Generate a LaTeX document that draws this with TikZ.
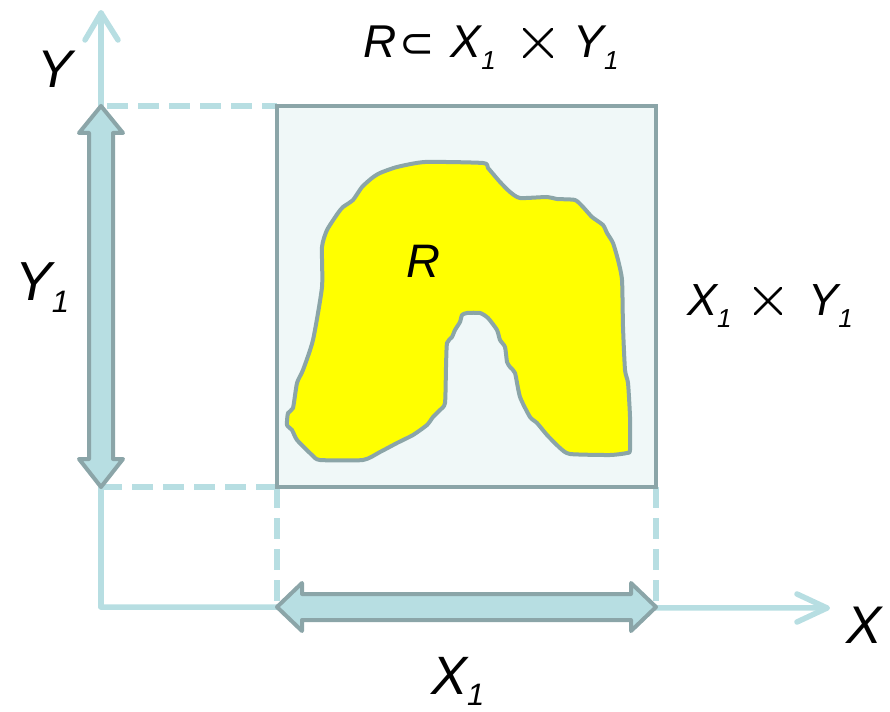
\documentclass[tikz,border=0pt]{standalone}
\usepackage{fontspec}
\usetikzlibrary{fit}
\setmainfont{Liberation Sans}
\newfontfamily\dejavu{DejaVu Sans}
\newcommand{\subone}[2]{\raisebox{-#2pt}{\fontsize{#1}{#1}\selectfont 1}}
\newcommand{\thintimes}[1]{\tikz[baseline=0pt, x=1pt, y=1pt]{\draw[line width=2.6pt, line cap=round] (0,1) -- (#1,#1+1) (0,#1+1) -- (#1,1);}}
\definecolor{axiscol}{HTML}{B7DEE2}
\definecolor{edgecol}{HTML}{8BA5A8}
\definecolor{boxfill}{HTML}{F0F8F8}
\definecolor{blobfill}{HTML}{FFFF00}
\tikzset{
  axisline/.style={draw=axiscol, line width=5.5pt, line cap=round, line join=round},
  guideline/.style={draw=axiscol, line width=5.5pt, dash pattern=on 21pt off 10pt},
  blockarrow/.style={fill=axiscol, draw=edgecol, line width=4pt, line join=round},
  lbl/.style={anchor=base west, inner sep=0pt, font=\itshape},
}
\begin{document}
\begin{tikzpicture}[x=1pt,y=-1pt]
\useasboundingbox (0,0) rectangle (890,711);
% key points
\coordinate (O) at (101,607);
\coordinate (Ytop) at (101,13);
\coordinate (Xend) at (827,608);
\coordinate (YA) at (101,106);
\coordinate (YB) at (101,487);
\coordinate (XA) at (277,607);
\coordinate (XB) at (656,607);
\coordinate (SQ1) at (277,106);
\coordinate (SQ2) at (656,487);
\coordinate (SQ3) at (277,487);
\coordinate (SQ4) at (656,106);
% axes
\draw[axisline] (O) -- (Ytop);
\draw[axisline] (85,40) -- (Ytop) -- (118,40);
\draw[axisline] (O) -- (Xend);
\draw[axisline] (797,594) -- (Xend) -- (797,622);
% guides
\draw[guideline] (107,106) -- (SQ1);
\draw[guideline] (YB) -- (SQ3);
\draw[guideline] (SQ3) -- (XA);
\draw[guideline] (SQ2) -- (XB);
% product square
\node[draw=edgecol, fill=boxfill, line width=4pt, inner sep=0pt, fit=(SQ1)(SQ2)] (sq) {};
% relation blob
\draw[fill=blobfill, draw=edgecol, line width=4pt, line join=round]
  plot[smooth cycle, tension=0.35] coordinates {
  (425,162) (483,163) (488,168) (500,182) (510,192) (520,198) (547,197)
  (557,199) (575,200) (583,207) (592,217) (603,225) (607,233) (613,243)
  (618,260) (622,280) (623,327) (625,370) (628,383) (630,417) (630,450)
  (627,453) (610,455) (570,454) (560,448) (547,435) (537,423) (530,417)
  (520,397) (515,373) (510,367) (507,362) (505,347) (500,340) (497,330)
  (488,318) (480,313) (467,313) (462,315) (460,322) (455,330) (452,337)
  (447,343) (446,367) (445,403) (440,410) (433,417) (427,425) (413,435)
  (397,443) (380,452) (363,460) (320,460) (312,455) (297,440) (292,430)
  (287,425) (288,413) (293,408) (297,383) (303,370) (313,340) (322,287)
  (322,247) (327,230) (338,213) (343,207) (353,200) (362,187) (372,178)
  (380,173) (397,167)};
% block arrows
\draw[blockarrow] (YA) -- (123,133) -- (113,133) -- (113,459) -- (123,459) -- (YB)
  -- (79,459) -- (89,459) -- (89,133) -- (79,133) -- cycle;
\draw[blockarrow] (XA) -- (302,583) -- (302,594) -- (631,594) -- (631,583) -- (XB)
  -- (631,631) -- (631,620) -- (302,620) -- (302,631) -- cycle;
% labels
\node[lbl, font=\itshape\fontsize{53}{56}\selectfont] (ly) at (37,88) {Y};
\node[lbl, font=\itshape\fontsize{53}{56}\selectfont] (lx) at (846,643) {X};
\node[lbl, font=\itshape\fontsize{55}{58}\selectfont] (ly1) at (15,300) {Y\subone{31}{12}};
\node[lbl, font=\itshape\fontsize{54}{58}\selectfont] (lx1) at (431,694) {X\subone{31}{11}};
\node[lbl, font=\itshape\fontsize{47}{50}\selectfont] (lr) at (406,277) {R};
\node[lbl, font=\itshape\fontsize{46}{50}\selectfont] (lsub) at (363,58)
  {R\hspace{3pt}{\upshape\dejavu\fontsize{42}{46}\selectfont\char"2282}\hspace{16pt}X\subone{26}{12}\hspace{27pt}\thintimes{28}\hspace{20pt}Y\subone{26}{12}};
\node[lbl, font=\itshape\fontsize{45}{50}\selectfont] (lprod) at (687,315)
  {X\subone{26}{12}\hspace{22pt}\thintimes{26}\hspace{26pt}Y\subone{26}{12}};
\end{tikzpicture}
\end{document}
